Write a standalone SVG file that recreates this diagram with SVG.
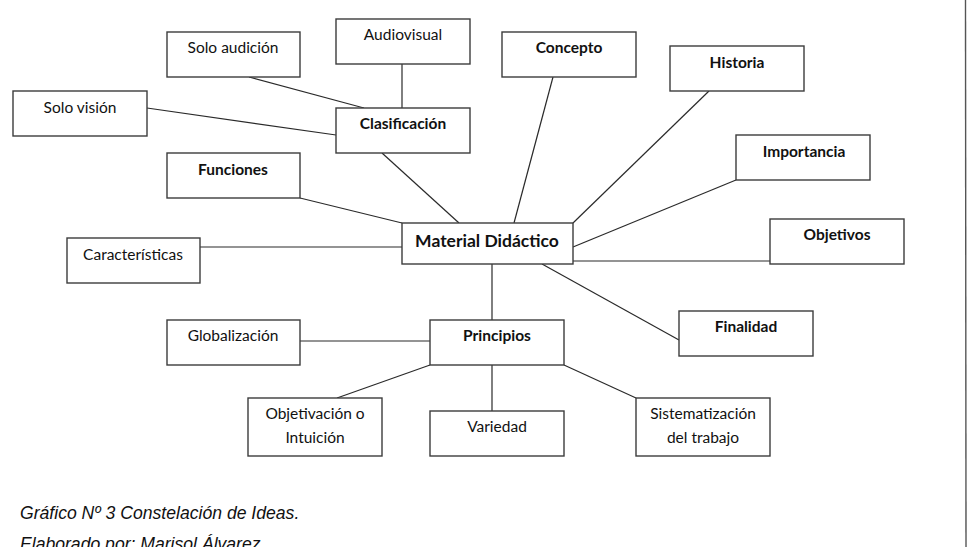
<svg xmlns="http://www.w3.org/2000/svg" width="974" height="547" viewBox="0 0 974 547">
<style>
.box{fill:#fff;stroke:#3c3c3c;stroke-width:1.4}
.t{font-family:Lato,"Open Sans","Liberation Sans",sans-serif;font-size:15.5px;fill:#111;text-anchor:middle}
.b{font-weight:bold}
.big{font-size:17.5px}
.ln{stroke:#2a2a2a;stroke-width:1.2;fill:none}
.cap{font-family:"Liberation Sans",Arial,sans-serif;font-style:italic;font-size:17.6px;fill:#111}
</style>
<rect width="974" height="547" fill="#fff"/>
<line x1="965.5" y1="0" x2="966" y2="547" stroke="#555" stroke-width="1.4"/>
<g id="connectors">
<line class="ln" x1="249" y1="77" x2="364" y2="108"/>
<line class="ln" x1="147" y1="108" x2="336" y2="135"/>
<line class="ln" x1="402" y1="64" x2="402" y2="108"/>
<line class="ln" x1="382" y1="153" x2="459" y2="223"/>
<line class="ln" x1="300" y1="198" x2="402" y2="223"/>
<line class="ln" x1="200" y1="247" x2="402" y2="247"/>
<line class="ln" x1="553" y1="77" x2="514" y2="223"/>
<line class="ln" x1="709" y1="91" x2="573" y2="223"/>
<line class="ln" x1="736" y1="180" x2="573" y2="247"/>
<line class="ln" x1="573" y1="261" x2="770" y2="261"/>
<line class="ln" x1="542" y1="264" x2="679" y2="340"/>
<line class="ln" x1="492" y1="264" x2="492" y2="320"/>
<line class="ln" x1="300" y1="341" x2="430" y2="341"/>
<line class="ln" x1="430" y1="365" x2="337" y2="398"/>
<line class="ln" x1="492" y1="365" x2="492" y2="411"/>
<line class="ln" x1="564" y1="365" x2="636" y2="398"/>
</g>
<g id="solo-audicion"><rect class="box" x="167" y="32" width="133" height="45"/><text class="t" x="233" y="53">Solo audición</text></g>
<g id="audiovisual"><rect class="box" x="336" y="19" width="134" height="45"/><text class="t" x="403" y="40">Audiovisual</text></g>
<g id="solo-vision"><rect class="box" x="13" y="91" width="134" height="45"/><text class="t" x="80" y="113">Solo visión</text></g>
<g id="clasificacion"><rect class="box" x="336" y="108" width="134" height="45"/><text class="t b" x="403" y="129">Clasificación</text></g>
<g id="funciones"><rect class="box" x="167" y="153" width="133" height="45"/><text class="t b" x="233" y="175">Funciones</text></g>
<g id="caracteristicas"><rect class="box" x="67" y="238" width="133" height="45"/><text class="t" x="133" y="260">Características</text></g>
<g id="material-didactico"><rect class="box" x="402" y="223" width="171" height="41"/><text class="t b big" x="487" y="247">Material Didáctico</text></g>
<g id="concepto"><rect class="box" x="502" y="32" width="134" height="45"/><text class="t b" x="569" y="53">Concepto</text></g>
<g id="historia"><rect class="box" x="670" y="46" width="134" height="45"/><text class="t b" x="737" y="68">Historia</text></g>
<g id="importancia"><rect class="box" x="736" y="135" width="134" height="45"/><text class="t b" x="804" y="157">Importancia</text></g>
<g id="objetivos"><rect class="box" x="770" y="219" width="134" height="45"/><text class="t b" x="837" y="240">Objetivos</text></g>
<g id="finalidad"><rect class="box" x="679" y="311" width="134" height="45"/><text class="t b" x="746" y="332">Finalidad</text></g>
<g id="globalizacion"><rect class="box" x="167" y="320" width="133" height="45"/><text class="t" x="233" y="341">Globalización</text></g>
<g id="principios"><rect class="box" x="430" y="320" width="134" height="45"/><text class="t b" x="497" y="341">Principios</text></g>
<g id="objetivacion"><rect class="box" x="248" y="398" width="134" height="58"/><text class="t" x="315" y="419">Objetivación o</text><text class="t" x="315" y="443">Intuición</text></g>
<g id="variedad"><rect class="box" x="430" y="411" width="134" height="45"/><text class="t" x="497" y="432">Variedad</text></g>
<g id="sistematizacion"><rect class="box" x="636" y="398" width="134" height="58"/><text class="t" x="703" y="419">Sistematización</text><text class="t" x="703" y="443">del trabajo</text></g>
<text class="cap" x="20" y="519">Gráfico Nº 3 Constelación de Ideas.</text>
<text class="cap" x="20" y="550">Elaborado por: Marisol Álvarez</text>
</svg>
